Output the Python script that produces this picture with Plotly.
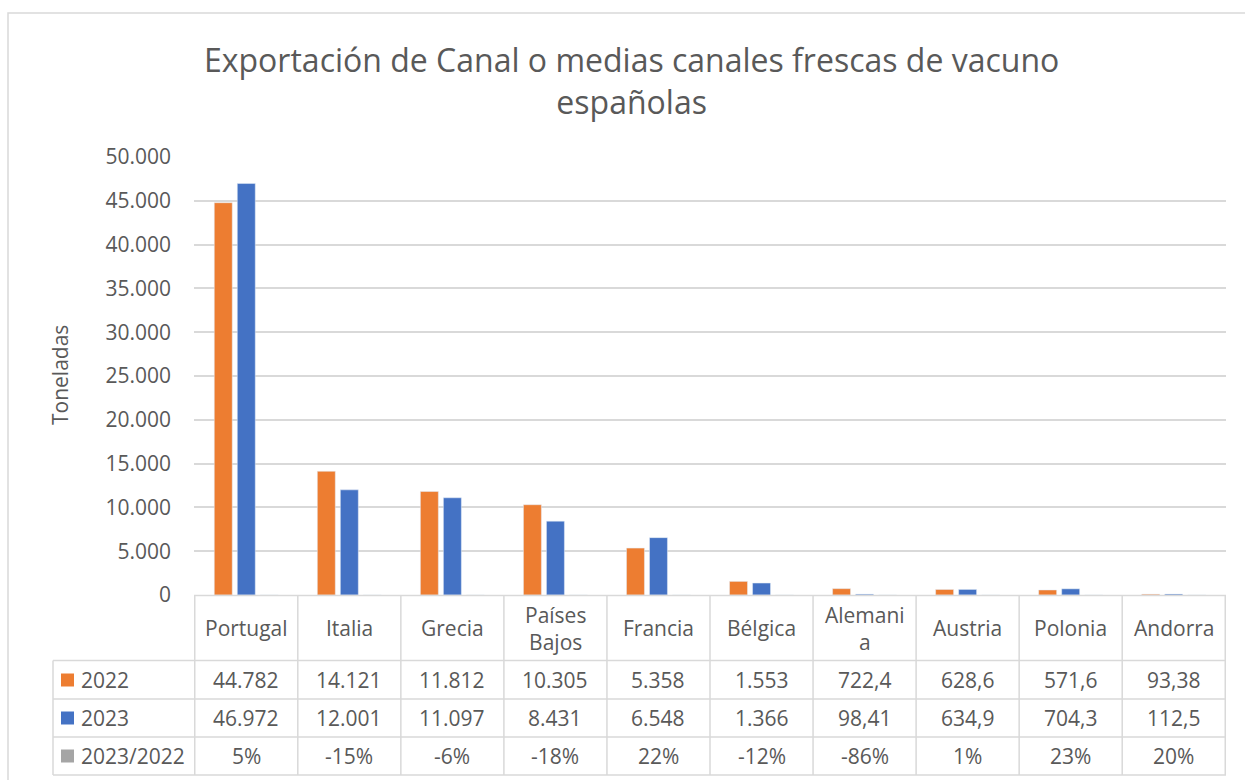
import plotly.graph_objects as go

categories = ["Portugal", "Italia", "Grecia", "Países Bajos", "Francia", "Bélgica",
              "Alemania", "Austria", "Polonia", "Andorra"]
header_labels = ["Portugal", "Italia", "Grecia", "Países<br>Bajos", "Francia", "Bélgica",
                 "Alemani<br>a", "Austria", "Polonia", "Andorra"]
values_2022 = [44782, 14121, 11812, 10305, 5358, 1553, 722.4, 628.6, 571.6, 93.38]
values_2023 = [46972, 12001, 11097, 8431, 6548, 1366, 98.41, 634.9, 704.3, 112.5]
ratio_pct = [5, -15, -6, -18, 22, -12, -86, 1, 23, 20]

C22, C23, CR = "#ed7d31", "#4472c4", "#a5a5a5"
TXT = "#595959"
LINE = "#d9d9d9"
FONT = "Open Sans"
FS = 21

W, H = 1245, 780
L, R, T, B = 194, 19, 157, 185
PW, PH = W - L - R, H - T - B


def px(p):
    return (p - L) / PW


def py(p):
    return (H - B - p) / PH


def fmt(v):
    if v >= 1000:
        return f"{round(v):,}".replace(",", ".")
    return f"{v:.4g}".replace(".", ",")


fig = go.Figure()
fig.add_bar(x=categories, y=values_2022, name="2022", marker_color=C22)
fig.add_bar(x=categories, y=values_2023, name="2023", marker_color=C23)
fig.add_bar(x=categories, y=[r / 100 for r in ratio_pct], name="2023/2022", marker_color=CR)

shapes = []
ann = []

# chart border
shapes.append(dict(type="rect", xref="paper", yref="paper", x0=px(8), x1=px(1260),
                   y0=py(13), y1=py(800), line=dict(color=LINE, width=1.5)))

# table lines
n = len(categories)
row_y = [660.5, 699, 737, 775]
shapes.append(dict(type="line", xref="paper", yref="paper", x0=0, x1=1, y0=py(595.5), y1=py(595.5),
                   line=dict(color=LINE, width=1.5)))
for yy in row_y:
    shapes.append(dict(type="line", xref="paper", yref="paper", x0=px(53), x1=1, y0=py(yy), y1=py(yy),
                       line=dict(color=LINE, width=1.5)))
shapes.append(dict(type="line", xref="paper", yref="paper", x0=px(53), x1=px(53), y0=py(660.5), y1=py(775),
                   line=dict(color=LINE, width=1.5)))
for i in range(n + 1):
    shapes.append(dict(type="line", xref="x", yref="paper", x0=i - 0.5, x1=i - 0.5,
                       y0=py(595.5), y1=py(775), line=dict(color=LINE, width=1.5)))

# header labels
for c, lab in zip(categories, header_labels):
    ann.append(dict(x=c, xref="x", y=py(628), yref="paper", text=lab, showarrow=False,
                    font=dict(family=FONT, size=FS, color=TXT), xanchor="center", yanchor="middle"))

rows = [("2022", C22, [fmt(v) for v in values_2022], 680),
        ("2023", C23, [fmt(v) for v in values_2023], 718),
        ("2023/2022", CR, [f"{r}%" for r in ratio_pct], 756)]
for name, col, texts, yc in rows:
    shapes.append(dict(type="rect", xref="paper", yref="paper", x0=px(61), x1=px(74),
                       y0=py(yc - 6.5), y1=py(yc + 6.5), fillcolor=col, line=dict(width=0)))
    ann.append(dict(x=px(79), xref="paper", y=py(yc), yref="paper", text=name, showarrow=False,
                    font=dict(family=FONT, size=FS, color=TXT), xanchor="left", yanchor="middle"))
    for c, t in zip(categories, texts):
        ann.append(dict(x=c, xref="x", y=py(yc), yref="paper", text=t, showarrow=False,
                        font=dict(family=FONT, size=FS, color=TXT), xanchor="center", yanchor="middle"))

# title
ann.append(dict(x=px(631), xref="paper", y=py(81), yref="paper",
                text="Exportación de Canal o medias canales frescas de vacuno<br>españolas",
                showarrow=False, font=dict(family=FONT, size=32, color=TXT),
                xanchor="center", yanchor="middle"))
# y-axis title
ann.append(dict(x=px(60), xref="paper", y=py(375), yref="paper", text="Toneladas", textangle=-90,
                showarrow=False, font=dict(family=FONT, size=FS, color=TXT),
                xanchor="center", yanchor="middle"))

fig.update_layout(
    width=W, height=H,
    margin=dict(l=L, r=R, t=T, b=B),
    paper_bgcolor="white", plot_bgcolor="white",
    barmode="group", bargap=0.33, bargroupgap=0.22,
    showlegend=False,
    separators=",.",
    shapes=shapes, annotations=ann,
    font=dict(family=FONT, color=TXT),
)
fig.update_xaxes(showticklabels=False, showgrid=False, zeroline=False, showline=False, ticks="")
fig.update_yaxes(range=[0, 50000], dtick=5000, tickformat=",d", showgrid=True, gridcolor=LINE,
                 gridwidth=1.5, zeroline=False, showline=False, ticks="", ticklabelstandoff=22,
                 tickfont=dict(family=FONT, size=FS, color=TXT))

fig.write_html("out.html", config={"displayModeBar": False},
               post_script="document.body.style.margin='0';")
